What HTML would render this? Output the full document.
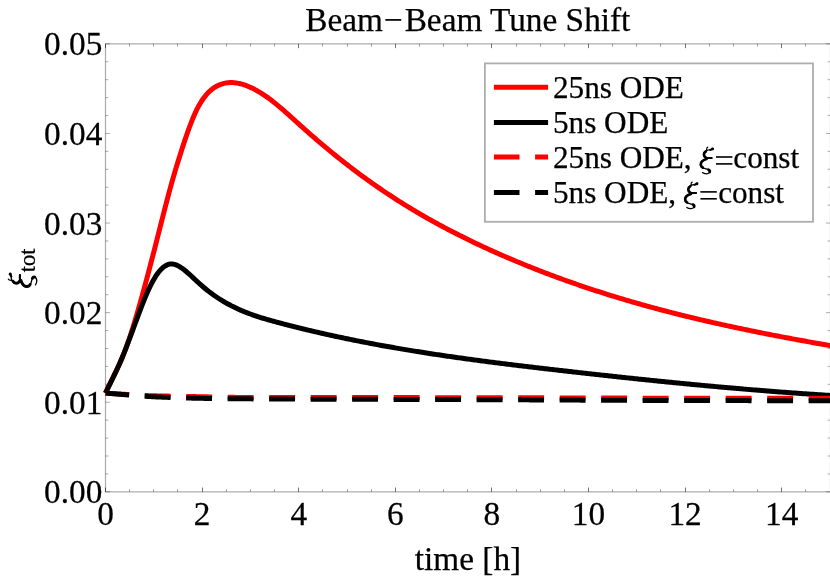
<!DOCTYPE html>
<html><head><meta charset="utf-8"><title>Beam-Beam Tune Shift</title>
<style>
html,body{margin:0;padding:0;background:#fff;}
body{width:830px;height:577px;overflow:hidden;font-family:"Liberation Serif",serif;}
svg{display:block;will-change:transform;}
text{font-family:"Liberation Serif",serif;fill:#000;stroke:#000;stroke-width:0.25px;stroke-linejoin:round;}
.tl{font-size:33.3px;}
.lg{font-size:31.2px;}
.tt{font-size:33.3px;}
.tM{stroke:#000;stroke-width:0.55;}
.tm{stroke:#000;stroke-width:0.36;}
.ty{stroke:#000;stroke-width:0.33;}
.fr{stroke:#aaaaaa;stroke-width:1.2;fill:none;}
.cv{fill:none;stroke-width:5;stroke-linejoin:round;}
.ds{stroke-dasharray:25.9 15.6;stroke-dashoffset:2.2;}
</style></head><body>
<svg width="830" height="577" viewBox="0 0 830 577">
<rect x="0" y="0" width="830" height="577" fill="#fff"/>
<defs><g id="xi" fill="none" stroke="#000" stroke-linecap="round" stroke-linejoin="round"><path stroke-width="1.25" d="M 8.20,-18.50 C 8.20,-19.80 8.60,-21.00 9.40,-21.20 M 14.60,-19.50 C 12.60,-18.10 11.10,-18.80 9.80,-18.40 C 7.10,-17.60 5.30,-15.80 5.30,-13.80 C 5.30,-11.60 6.80,-10.50 9.10,-10.40 L 13.60,-10.40 M 11.10,-10.20 C 6.60,-9.80 2.00,-7.60 2.00,-4.00 C 2.00,-1.80 3.20,-0.80 5.10,-0.20 L 9.40,1.00 C 11.00,1.50 11.50,2.40 11.30,3.40 C 11.00,4.60 9.60,5.40 7.90,5.40 C 6.20,5.40 4.90,4.90 4.00,4.20"/><path stroke-width="2.7" d="M 7.40,-16.90 C 5.90,-16.00 5.50,-14.80 5.50,-13.80 C 5.50,-12.40 6.20,-11.40 7.40,-10.90 M 8.10,-9.40 C 4.60,-8.40 2.40,-6.60 2.40,-4.00 C 2.40,-2.40 3.10,-1.40 4.40,-0.80 M 10.10,1.30 C 11.20,1.80 11.60,2.60 11.30,3.60"/><path stroke-width="2.0" d="M 8.10,-10.40 L 13.20,-10.40"/><circle cx="14.20" cy="-19.50" r="1.45" fill="#000" stroke="none"/><path stroke-width="2.1" d="M 11.9,-18.55 L 14.0,-19.45"/></g></defs>
<text class="tt" x="467.85" y="30.5" text-anchor="middle">Beam<tspan dx="1">−</tspan><tspan dx="1.9">Beam Tune Shift</tspan></text>
<g><text class="tl" transform="translate(105.5,525.3) scale(1,1.04)" text-anchor="middle">0</text><text class="tl" transform="translate(202.1,525.3) scale(1,1.04)" text-anchor="middle">2</text><text class="tl" transform="translate(298.7,525.3) scale(1,1.04)" text-anchor="middle">4</text><text class="tl" transform="translate(395.3,525.3) scale(1,1.04)" text-anchor="middle">6</text><text class="tl" transform="translate(491.9,525.3) scale(1,1.04)" text-anchor="middle">8</text><text class="tl" transform="translate(588.5,525.3) scale(1,1.04)" text-anchor="middle">10</text><text class="tl" transform="translate(685.1,525.3) scale(1,1.04)" text-anchor="middle">12</text><text class="tl" transform="translate(781.7,525.3) scale(1,1.04)" text-anchor="middle">14</text></g>
<g><text class="tl" transform="translate(102.3,503.2) scale(1,1.04)" text-anchor="end">0.00</text><text class="tl" transform="translate(102.3,413.6) scale(1,1.04)" text-anchor="end">0.01</text><text class="tl" transform="translate(102.3,324.0) scale(1,1.04)" text-anchor="end">0.02</text><text class="tl" transform="translate(102.3,234.5) scale(1,1.04)" text-anchor="end">0.03</text><text class="tl" transform="translate(102.3,144.8) scale(1,1.04)" text-anchor="end">0.04</text><text class="tl" transform="translate(102.3,55.3) scale(1,1.04)" text-anchor="end">0.05</text></g>
<text class="tl" x="468" y="569.7" text-anchor="middle">time [h]</text>
<g transform="translate(31.0,288.3) rotate(-90)"><use href="#xi" transform="translate(-0.8,0) scale(1.067)"/><text font-size="22.5px" x="16" y="3.6">tot</text></g>
<rect class="fr" x="105.5" y="43.85" width="725.0" height="448.0"/>
<g><line class="tM" x1="105.50" y1="491.85" x2="105.50" y2="487.55"/><line class="tM" x1="105.50" y1="43.85" x2="105.50" y2="48.15"/><line class="tm" x1="129.50" y1="491.85" x2="129.50" y2="489.05"/><line class="tm" x1="129.50" y1="43.85" x2="129.50" y2="46.65"/><line class="tm" x1="153.50" y1="491.85" x2="153.50" y2="489.05"/><line class="tm" x1="153.50" y1="43.85" x2="153.50" y2="46.65"/><line class="tm" x1="177.50" y1="491.85" x2="177.50" y2="489.05"/><line class="tm" x1="177.50" y1="43.85" x2="177.50" y2="46.65"/><line class="tM" x1="202.50" y1="491.85" x2="202.50" y2="487.55"/><line class="tM" x1="202.50" y1="43.85" x2="202.50" y2="48.15"/><line class="tm" x1="226.50" y1="491.85" x2="226.50" y2="489.05"/><line class="tm" x1="226.50" y1="43.85" x2="226.50" y2="46.65"/><line class="tm" x1="250.50" y1="491.85" x2="250.50" y2="489.05"/><line class="tm" x1="250.50" y1="43.85" x2="250.50" y2="46.65"/><line class="tm" x1="274.50" y1="491.85" x2="274.50" y2="489.05"/><line class="tm" x1="274.50" y1="43.85" x2="274.50" y2="46.65"/><line class="tM" x1="298.50" y1="491.85" x2="298.50" y2="487.55"/><line class="tM" x1="298.50" y1="43.85" x2="298.50" y2="48.15"/><line class="tm" x1="322.50" y1="491.85" x2="322.50" y2="489.05"/><line class="tm" x1="322.50" y1="43.85" x2="322.50" y2="46.65"/><line class="tm" x1="347.50" y1="491.85" x2="347.50" y2="489.05"/><line class="tm" x1="347.50" y1="43.85" x2="347.50" y2="46.65"/><line class="tm" x1="371.50" y1="491.85" x2="371.50" y2="489.05"/><line class="tm" x1="371.50" y1="43.85" x2="371.50" y2="46.65"/><line class="tM" x1="395.50" y1="491.85" x2="395.50" y2="487.55"/><line class="tM" x1="395.50" y1="43.85" x2="395.50" y2="48.15"/><line class="tm" x1="419.50" y1="491.85" x2="419.50" y2="489.05"/><line class="tm" x1="419.50" y1="43.85" x2="419.50" y2="46.65"/><line class="tm" x1="443.50" y1="491.85" x2="443.50" y2="489.05"/><line class="tm" x1="443.50" y1="43.85" x2="443.50" y2="46.65"/><line class="tm" x1="467.50" y1="491.85" x2="467.50" y2="489.05"/><line class="tm" x1="467.50" y1="43.85" x2="467.50" y2="46.65"/><line class="tM" x1="491.50" y1="491.85" x2="491.50" y2="487.55"/><line class="tM" x1="491.50" y1="43.85" x2="491.50" y2="48.15"/><line class="tm" x1="516.50" y1="491.85" x2="516.50" y2="489.05"/><line class="tm" x1="516.50" y1="43.85" x2="516.50" y2="46.65"/><line class="tm" x1="540.50" y1="491.85" x2="540.50" y2="489.05"/><line class="tm" x1="540.50" y1="43.85" x2="540.50" y2="46.65"/><line class="tm" x1="564.50" y1="491.85" x2="564.50" y2="489.05"/><line class="tm" x1="564.50" y1="43.85" x2="564.50" y2="46.65"/><line class="tM" x1="588.50" y1="491.85" x2="588.50" y2="487.55"/><line class="tM" x1="588.50" y1="43.85" x2="588.50" y2="48.15"/><line class="tm" x1="612.50" y1="491.85" x2="612.50" y2="489.05"/><line class="tm" x1="612.50" y1="43.85" x2="612.50" y2="46.65"/><line class="tm" x1="636.50" y1="491.85" x2="636.50" y2="489.05"/><line class="tm" x1="636.50" y1="43.85" x2="636.50" y2="46.65"/><line class="tm" x1="660.50" y1="491.85" x2="660.50" y2="489.05"/><line class="tm" x1="660.50" y1="43.85" x2="660.50" y2="46.65"/><line class="tM" x1="685.50" y1="491.85" x2="685.50" y2="487.55"/><line class="tM" x1="685.50" y1="43.85" x2="685.50" y2="48.15"/><line class="tm" x1="709.50" y1="491.85" x2="709.50" y2="489.05"/><line class="tm" x1="709.50" y1="43.85" x2="709.50" y2="46.65"/><line class="tm" x1="733.50" y1="491.85" x2="733.50" y2="489.05"/><line class="tm" x1="733.50" y1="43.85" x2="733.50" y2="46.65"/><line class="tm" x1="757.50" y1="491.85" x2="757.50" y2="489.05"/><line class="tm" x1="757.50" y1="43.85" x2="757.50" y2="46.65"/><line class="tM" x1="781.50" y1="491.85" x2="781.50" y2="487.55"/><line class="tM" x1="781.50" y1="43.85" x2="781.50" y2="48.15"/><line class="tm" x1="805.50" y1="491.85" x2="805.50" y2="489.05"/><line class="tm" x1="805.50" y1="43.85" x2="805.50" y2="46.65"/><line class="tm" x1="830.50" y1="491.85" x2="830.50" y2="489.05"/><line class="tm" x1="830.50" y1="43.85" x2="830.50" y2="46.65"/><line class="ty" x1="105.50" y1="491.85" x2="110.00" y2="491.85"/><line class="ty" x1="830.50" y1="491.85" x2="826.00" y2="491.85"/><line class="ty" x1="105.50" y1="473.93" x2="108.40" y2="473.93"/><line class="ty" x1="830.50" y1="473.93" x2="827.60" y2="473.93"/><line class="ty" x1="105.50" y1="456.01" x2="108.40" y2="456.01"/><line class="ty" x1="830.50" y1="456.01" x2="827.60" y2="456.01"/><line class="ty" x1="105.50" y1="438.09" x2="108.40" y2="438.09"/><line class="ty" x1="830.50" y1="438.09" x2="827.60" y2="438.09"/><line class="ty" x1="105.50" y1="420.17" x2="108.40" y2="420.17"/><line class="ty" x1="830.50" y1="420.17" x2="827.60" y2="420.17"/><line class="ty" x1="105.50" y1="402.25" x2="110.00" y2="402.25"/><line class="ty" x1="830.50" y1="402.25" x2="826.00" y2="402.25"/><line class="ty" x1="105.50" y1="384.33" x2="108.40" y2="384.33"/><line class="ty" x1="830.50" y1="384.33" x2="827.60" y2="384.33"/><line class="ty" x1="105.50" y1="366.41" x2="108.40" y2="366.41"/><line class="ty" x1="830.50" y1="366.41" x2="827.60" y2="366.41"/><line class="ty" x1="105.50" y1="348.49" x2="108.40" y2="348.49"/><line class="ty" x1="830.50" y1="348.49" x2="827.60" y2="348.49"/><line class="ty" x1="105.50" y1="330.57" x2="108.40" y2="330.57"/><line class="ty" x1="830.50" y1="330.57" x2="827.60" y2="330.57"/><line class="ty" x1="105.50" y1="312.65" x2="110.00" y2="312.65"/><line class="ty" x1="830.50" y1="312.65" x2="826.00" y2="312.65"/><line class="ty" x1="105.50" y1="294.73" x2="108.40" y2="294.73"/><line class="ty" x1="830.50" y1="294.73" x2="827.60" y2="294.73"/><line class="ty" x1="105.50" y1="276.81" x2="108.40" y2="276.81"/><line class="ty" x1="830.50" y1="276.81" x2="827.60" y2="276.81"/><line class="ty" x1="105.50" y1="258.89" x2="108.40" y2="258.89"/><line class="ty" x1="830.50" y1="258.89" x2="827.60" y2="258.89"/><line class="ty" x1="105.50" y1="240.97" x2="108.40" y2="240.97"/><line class="ty" x1="830.50" y1="240.97" x2="827.60" y2="240.97"/><line class="ty" x1="105.50" y1="223.05" x2="110.00" y2="223.05"/><line class="ty" x1="830.50" y1="223.05" x2="826.00" y2="223.05"/><line class="ty" x1="105.50" y1="205.13" x2="108.40" y2="205.13"/><line class="ty" x1="830.50" y1="205.13" x2="827.60" y2="205.13"/><line class="ty" x1="105.50" y1="187.21" x2="108.40" y2="187.21"/><line class="ty" x1="830.50" y1="187.21" x2="827.60" y2="187.21"/><line class="ty" x1="105.50" y1="169.29" x2="108.40" y2="169.29"/><line class="ty" x1="830.50" y1="169.29" x2="827.60" y2="169.29"/><line class="ty" x1="105.50" y1="151.37" x2="108.40" y2="151.37"/><line class="ty" x1="830.50" y1="151.37" x2="827.60" y2="151.37"/><line class="ty" x1="105.50" y1="133.45" x2="110.00" y2="133.45"/><line class="ty" x1="830.50" y1="133.45" x2="826.00" y2="133.45"/><line class="ty" x1="105.50" y1="115.53" x2="108.40" y2="115.53"/><line class="ty" x1="830.50" y1="115.53" x2="827.60" y2="115.53"/><line class="ty" x1="105.50" y1="97.61" x2="108.40" y2="97.61"/><line class="ty" x1="830.50" y1="97.61" x2="827.60" y2="97.61"/><line class="ty" x1="105.50" y1="79.69" x2="108.40" y2="79.69"/><line class="ty" x1="830.50" y1="79.69" x2="827.60" y2="79.69"/><line class="ty" x1="105.50" y1="61.77" x2="108.40" y2="61.77"/><line class="ty" x1="830.50" y1="61.77" x2="827.60" y2="61.77"/><line class="ty" x1="105.50" y1="43.85" x2="110.00" y2="43.85"/><line class="ty" x1="830.50" y1="43.85" x2="826.00" y2="43.85"/></g>
<clipPath id="cp"><rect x="105" y="43" width="726" height="449.5"/></clipPath>
<g>
<path class="cv" stroke="#f00" d="M105.5,393.10 L107.0,389.81 L108.5,386.64 L110.0,383.54 L111.5,380.51 L113.0,377.49 L114.5,374.47 L116.0,371.41 L117.5,368.29 L119.0,365.06 L120.5,361.71 L122.0,358.21 L123.5,354.51 L125.0,350.63 L126.5,346.57 L128.0,342.34 L129.5,337.95 L131.0,333.41 L132.5,328.72 L134.0,323.91 L135.5,318.97 L137.0,313.92 L138.5,308.76 L140.0,303.51 L141.5,298.17 L143.0,292.76 L144.5,287.28 L146.0,281.72 L147.5,276.11 L149.0,270.44 L150.5,264.72 L152.0,258.95 L153.5,253.14 L155.0,247.29 L156.5,241.41 L158.0,235.50 L159.5,229.58 L161.0,223.66 L162.5,217.75 L164.0,211.89 L165.5,206.07 L167.0,200.33 L168.5,194.67 L170.0,189.11 L171.5,183.67 L173.0,178.36 L174.5,173.20 L176.0,168.15 L177.5,163.22 L179.0,158.39 L180.5,153.64 L182.0,148.97 L183.5,144.37 L185.0,139.85 L186.5,135.43 L188.0,131.13 L189.5,126.99 L191.0,123.01 L192.5,119.23 L194.0,115.66 L195.5,112.31 L197.0,109.21 L198.5,106.34 L200.0,103.69 L201.5,101.24 L203.0,99.00 L204.5,96.95 L206.0,95.08 L207.5,93.38 L209.0,91.85 L210.5,90.47 L212.0,89.23 L213.5,88.13 L215.0,87.15 L216.5,86.28 L218.0,85.53 L219.5,84.87 L221.0,84.29 L222.5,83.81 L224.0,83.41 L225.5,83.09 L227.0,82.85 L228.5,82.68 L230.0,82.59 L231.5,82.57 L233.0,82.62 L234.5,82.73 L236.0,82.91 L237.5,83.15 L239.0,83.45 L240.5,83.80 L242.0,84.21 L243.5,84.66 L245.0,85.17 L246.5,85.72 L248.0,86.31 L249.5,86.95 L251.0,87.62 L252.5,88.33 L254.0,89.08 L255.5,89.87 L257.0,90.69 L258.5,91.55 L260.0,92.45 L261.5,93.37 L263.0,94.34 L264.5,95.33 L266.0,96.36 L267.5,97.41 L269.0,98.50 L270.5,99.62 L272.0,100.76 L273.5,101.93 L275.0,103.13 L276.5,104.34 L278.0,105.58 L279.5,106.84 L281.0,108.12 L282.5,109.41 L284.0,110.71 L285.5,112.03 L287.0,113.36 L288.5,114.70 L290.0,116.05 L291.5,117.40 L293.0,118.76 L294.5,120.12 L296.0,121.48 L297.5,122.84 L299.0,124.19 L300.5,125.55 L302.0,126.89 L303.5,128.23 L305.0,129.57 L306.5,130.90 L308.0,132.22 L309.5,133.54 L311.0,134.85 L312.5,136.16 L314.0,137.46 L315.5,138.76 L317.0,140.05 L318.5,141.33 L320.0,142.61 L321.5,143.88 L323.0,145.14 L324.5,146.40 L326.0,147.65 L327.5,148.90 L329.0,150.14 L330.5,151.38 L332.0,152.61 L333.5,153.83 L335.0,155.05 L336.5,156.26 L338.0,157.46 L339.5,158.66 L341.0,159.85 L342.5,161.04 L344.0,162.22 L345.5,163.39 L347.0,164.56 L348.5,165.72 L350.0,166.88 L351.5,168.03 L353.0,169.17 L354.5,170.31 L356.0,171.44 L357.5,172.56 L359.0,173.68 L360.5,174.79 L362.0,175.90 L363.5,176.99 L365.0,178.09 L366.5,179.17 L368.0,180.25 L369.5,181.33 L371.0,182.39 L372.5,183.45 L374.0,184.51 L375.5,185.56 L377.0,186.60 L378.5,187.63 L380.0,188.66 L381.5,189.68 L383.0,190.70 L384.5,191.71 L386.0,192.72 L387.5,193.72 L389.0,194.71 L390.5,195.70 L392.0,196.68 L393.5,197.65 L395.0,198.62 L396.5,199.58 L398.0,200.54 L399.5,201.49 L401.0,202.44 L402.5,203.38 L404.0,204.32 L405.5,205.25 L407.0,206.17 L408.5,207.09 L410.0,208.00 L411.5,208.91 L413.0,209.81 L414.5,210.71 L416.0,211.60 L417.5,212.49 L419.0,213.37 L420.5,214.25 L422.0,215.12 L423.5,215.99 L425.0,216.85 L426.5,217.70 L428.0,218.56 L429.5,219.40 L431.0,220.24 L432.5,221.08 L434.0,221.91 L435.5,222.74 L437.0,223.56 L438.5,224.38 L440.0,225.19 L441.5,226.00 L443.0,226.81 L444.5,227.61 L446.0,228.40 L447.5,229.19 L449.0,229.98 L450.5,230.76 L452.0,231.54 L453.5,232.31 L455.0,233.08 L456.5,233.84 L458.0,234.60 L459.5,235.36 L461.0,236.11 L462.5,236.86 L464.0,237.61 L465.5,238.35 L467.0,239.08 L468.5,239.82 L470.0,240.54 L471.5,241.27 L473.0,241.99 L474.5,242.71 L476.0,243.42 L477.5,244.13 L479.0,244.84 L480.5,245.54 L482.0,246.24 L483.5,246.94 L485.0,247.63 L486.5,248.32 L488.0,249.00 L489.5,249.69 L491.0,250.36 L492.5,251.04 L494.0,251.71 L495.5,252.38 L497.0,253.05 L498.5,253.71 L500.0,254.37 L501.5,255.03 L503.0,255.68 L504.5,256.33 L506.0,256.98 L507.5,257.62 L509.0,258.27 L510.5,258.90 L512.0,259.54 L513.5,260.17 L515.0,260.80 L516.5,261.43 L518.0,262.05 L519.5,262.67 L521.0,263.29 L522.5,263.91 L524.0,264.52 L525.5,265.13 L527.0,265.74 L528.5,266.34 L530.0,266.94 L531.5,267.54 L533.0,268.14 L534.5,268.73 L536.0,269.32 L537.5,269.91 L539.0,270.49 L540.5,271.07 L542.0,271.65 L543.5,272.23 L545.0,272.80 L546.5,273.37 L548.0,273.94 L549.5,274.51 L551.0,275.07 L552.5,275.63 L554.0,276.19 L555.5,276.74 L557.0,277.29 L558.5,277.84 L560.0,278.39 L561.5,278.93 L563.0,279.48 L564.5,280.02 L566.0,280.55 L567.5,281.09 L569.0,281.62 L570.5,282.15 L572.0,282.67 L573.5,283.20 L575.0,283.72 L576.5,284.24 L578.0,284.76 L579.5,285.27 L581.0,285.78 L582.5,286.29 L584.0,286.80 L585.5,287.30 L587.0,287.81 L588.5,288.31 L590.0,288.80 L591.5,289.30 L593.0,289.79 L594.5,290.28 L596.0,290.77 L597.5,291.25 L599.0,291.74 L600.5,292.22 L602.0,292.70 L603.5,293.17 L605.0,293.65 L606.5,294.12 L608.0,294.59 L609.5,295.06 L611.0,295.52 L612.5,295.99 L614.0,296.45 L615.5,296.91 L617.0,297.36 L618.5,297.82 L620.0,298.27 L621.5,298.72 L623.0,299.17 L624.5,299.61 L626.0,300.06 L627.5,300.50 L629.0,300.94 L630.5,301.38 L632.0,301.81 L633.5,302.24 L635.0,302.68 L636.5,303.11 L638.0,303.53 L639.5,303.96 L641.0,304.38 L642.5,304.80 L644.0,305.22 L645.5,305.64 L647.0,306.06 L648.5,306.47 L650.0,306.88 L651.5,307.29 L653.0,307.70 L654.5,308.10 L656.0,308.51 L657.5,308.91 L659.0,309.31 L660.5,309.71 L662.0,310.10 L663.5,310.50 L665.0,310.89 L666.5,311.28 L668.0,311.67 L669.5,312.06 L671.0,312.45 L672.5,312.83 L674.0,313.21 L675.5,313.59 L677.0,313.97 L678.5,314.35 L680.0,314.72 L681.5,315.10 L683.0,315.47 L684.5,315.84 L686.0,316.21 L687.5,316.58 L689.0,316.94 L690.5,317.31 L692.0,317.67 L693.5,318.03 L695.0,318.39 L696.5,318.75 L698.0,319.10 L699.5,319.46 L701.0,319.81 L702.5,320.16 L704.0,320.51 L705.5,320.86 L707.0,321.20 L708.5,321.55 L710.0,321.89 L711.5,322.24 L713.0,322.58 L714.5,322.92 L716.0,323.25 L717.5,323.59 L719.0,323.93 L720.5,324.26 L722.0,324.59 L723.5,324.92 L725.0,325.25 L726.5,325.58 L728.0,325.91 L729.5,326.23 L731.0,326.56 L732.5,326.88 L734.0,327.20 L735.5,327.52 L737.0,327.84 L738.5,328.16 L740.0,328.47 L741.5,328.79 L743.0,329.10 L744.5,329.42 L746.0,329.73 L747.5,330.04 L749.0,330.35 L750.5,330.66 L752.0,330.96 L753.5,331.27 L755.0,331.57 L756.5,331.88 L758.0,332.18 L759.5,332.48 L761.0,332.78 L762.5,333.08 L764.0,333.38 L765.5,333.68 L767.0,333.97 L768.5,334.27 L770.0,334.56 L771.5,334.85 L773.0,335.14 L774.5,335.44 L776.0,335.73 L777.5,336.01 L779.0,336.30 L780.5,336.59 L782.0,336.87 L783.5,337.16 L785.0,337.44 L786.5,337.73 L788.0,338.01 L789.5,338.29 L791.0,338.57 L792.5,338.85 L794.0,339.13 L795.5,339.41 L797.0,339.69 L798.5,339.96 L800.0,340.24 L801.5,340.51 L803.0,340.79 L804.5,341.06 L806.0,341.33 L807.5,341.60 L809.0,341.88 L810.5,342.15 L812.0,342.42 L813.5,342.68 L815.0,342.95 L816.5,343.22 L818.0,343.49 L819.5,343.75 L821.0,344.02 L822.5,344.28 L824.0,344.55 L825.5,344.81 L827.0,345.07 L828.5,345.34 L830.0,345.60 L831.5,345.86 L833.0,346.12"/>
<path class="cv" stroke="#000" d="M105.5,393.10 L107.0,390.01 L108.5,386.94 L110.0,383.89 L111.5,380.82 L113.0,377.74 L114.5,374.62 L116.0,371.46 L117.5,368.22 L119.0,364.92 L120.5,361.51 L122.0,358.00 L123.5,354.37 L125.0,350.63 L126.5,346.79 L128.0,342.86 L129.5,338.88 L131.0,334.84 L132.5,330.78 L134.0,326.70 L135.5,322.62 L137.0,318.56 L138.5,314.54 L140.0,310.57 L141.5,306.67 L143.0,302.85 L144.5,299.14 L146.0,295.55 L147.5,292.09 L149.0,288.78 L150.5,285.64 L152.0,282.69 L153.5,279.94 L155.0,277.40 L156.5,275.07 L158.0,272.96 L159.5,271.07 L161.0,269.39 L162.5,267.94 L164.0,266.71 L165.5,265.70 L167.0,264.92 L168.5,264.37 L170.0,264.04 L171.5,263.95 L173.0,264.07 L174.5,264.40 L176.0,264.89 L177.5,265.55 L179.0,266.34 L180.5,267.24 L182.0,268.25 L183.5,269.34 L185.0,270.51 L186.5,271.75 L188.0,273.05 L189.5,274.38 L191.0,275.76 L192.5,277.16 L194.0,278.57 L195.5,279.98 L197.0,281.39 L198.5,282.78 L200.0,284.14 L201.5,285.46 L203.0,286.76 L204.5,288.02 L206.0,289.25 L207.5,290.45 L209.0,291.62 L210.5,292.75 L212.0,293.86 L213.5,294.94 L215.0,295.99 L216.5,297.02 L218.0,298.01 L219.5,298.98 L221.0,299.93 L222.5,300.84 L224.0,301.74 L225.5,302.61 L227.0,303.45 L228.5,304.28 L230.0,305.08 L231.5,305.86 L233.0,306.61 L234.5,307.35 L236.0,308.07 L237.5,308.76 L239.0,309.44 L240.5,310.10 L242.0,310.75 L243.5,311.37 L245.0,311.98 L246.5,312.58 L248.0,313.16 L249.5,313.72 L251.0,314.27 L252.5,314.81 L254.0,315.33 L255.5,315.85 L257.0,316.35 L258.5,316.84 L260.0,317.32 L261.5,317.79 L263.0,318.25 L264.5,318.70 L266.0,319.14 L267.5,319.58 L269.0,320.01 L270.5,320.43 L272.0,320.85 L273.5,321.27 L275.0,321.68 L276.5,322.08 L278.0,322.48 L279.5,322.88 L281.0,323.28 L282.5,323.68 L284.0,324.07 L285.5,324.46 L287.0,324.85 L288.5,325.23 L290.0,325.62 L291.5,326.00 L293.0,326.38 L294.5,326.76 L296.0,327.14 L297.5,327.51 L299.0,327.88 L300.5,328.25 L302.0,328.62 L303.5,328.99 L305.0,329.35 L306.5,329.71 L308.0,330.07 L309.5,330.43 L311.0,330.78 L312.5,331.14 L314.0,331.49 L315.5,331.84 L317.0,332.19 L318.5,332.53 L320.0,332.88 L321.5,333.22 L323.0,333.56 L324.5,333.90 L326.0,334.23 L327.5,334.57 L329.0,334.90 L330.5,335.23 L332.0,335.56 L333.5,335.88 L335.0,336.21 L336.5,336.53 L338.0,336.85 L339.5,337.17 L341.0,337.49 L342.5,337.81 L344.0,338.12 L345.5,338.44 L347.0,338.75 L348.5,339.06 L350.0,339.36 L351.5,339.67 L353.0,339.97 L354.5,340.27 L356.0,340.58 L357.5,340.87 L359.0,341.17 L360.5,341.47 L362.0,341.76 L363.5,342.05 L365.0,342.35 L366.5,342.63 L368.0,342.92 L369.5,343.21 L371.0,343.49 L372.5,343.78 L374.0,344.06 L375.5,344.34 L377.0,344.62 L378.5,344.89 L380.0,345.17 L381.5,345.44 L383.0,345.71 L384.5,345.98 L386.0,346.25 L387.5,346.52 L389.0,346.79 L390.5,347.05 L392.0,347.32 L393.5,347.58 L395.0,347.84 L396.5,348.10 L398.0,348.36 L399.5,348.61 L401.0,348.87 L402.5,349.12 L404.0,349.38 L405.5,349.63 L407.0,349.88 L408.5,350.13 L410.0,350.37 L411.5,350.62 L413.0,350.86 L414.5,351.11 L416.0,351.35 L417.5,351.59 L419.0,351.83 L420.5,352.07 L422.0,352.31 L423.5,352.54 L425.0,352.78 L426.5,353.01 L428.0,353.25 L429.5,353.48 L431.0,353.71 L432.5,353.94 L434.0,354.16 L435.5,354.39 L437.0,354.62 L438.5,354.84 L440.0,355.07 L441.5,355.29 L443.0,355.51 L444.5,355.73 L446.0,355.95 L447.5,356.17 L449.0,356.39 L450.5,356.60 L452.0,356.82 L453.5,357.03 L455.0,357.25 L456.5,357.46 L458.0,357.67 L459.5,357.88 L461.0,358.09 L462.5,358.30 L464.0,358.51 L465.5,358.72 L467.0,358.92 L468.5,359.13 L470.0,359.33 L471.5,359.53 L473.0,359.74 L474.5,359.94 L476.0,360.14 L477.5,360.34 L479.0,360.54 L480.5,360.74 L482.0,360.94 L483.5,361.13 L485.0,361.33 L486.5,361.52 L488.0,361.72 L489.5,361.91 L491.0,362.11 L492.5,362.30 L494.0,362.49 L495.5,362.68 L497.0,362.87 L498.5,363.06 L500.0,363.25 L501.5,363.44 L503.0,363.63 L504.5,363.82 L506.0,364.00 L507.5,364.19 L509.0,364.38 L510.5,364.56 L512.0,364.74 L513.5,364.93 L515.0,365.11 L516.5,365.29 L518.0,365.48 L519.5,365.66 L521.0,365.84 L522.5,366.02 L524.0,366.20 L525.5,366.38 L527.0,366.56 L528.5,366.74 L530.0,366.92 L531.5,367.09 L533.0,367.27 L534.5,367.45 L536.0,367.63 L537.5,367.80 L539.0,367.98 L540.5,368.15 L542.0,368.33 L543.5,368.50 L545.0,368.68 L546.5,368.85 L548.0,369.03 L549.5,369.20 L551.0,369.37 L552.5,369.55 L554.0,369.72 L555.5,369.89 L557.0,370.06 L558.5,370.24 L560.0,370.41 L561.5,370.58 L563.0,370.75 L564.5,370.92 L566.0,371.09 L567.5,371.26 L569.0,371.43 L570.5,371.60 L572.0,371.77 L573.5,371.94 L575.0,372.11 L576.5,372.28 L578.0,372.45 L579.5,372.62 L581.0,372.79 L582.5,372.96 L584.0,373.12 L585.5,373.29 L587.0,373.46 L588.5,373.63 L590.0,373.79 L591.5,373.96 L593.0,374.13 L594.5,374.29 L596.0,374.46 L597.5,374.62 L599.0,374.79 L600.5,374.95 L602.0,375.12 L603.5,375.28 L605.0,375.45 L606.5,375.61 L608.0,375.77 L609.5,375.94 L611.0,376.10 L612.5,376.26 L614.0,376.42 L615.5,376.59 L617.0,376.75 L618.5,376.91 L620.0,377.07 L621.5,377.23 L623.0,377.39 L624.5,377.55 L626.0,377.71 L627.5,377.87 L629.0,378.03 L630.5,378.19 L632.0,378.35 L633.5,378.51 L635.0,378.66 L636.5,378.82 L638.0,378.98 L639.5,379.14 L641.0,379.29 L642.5,379.45 L644.0,379.60 L645.5,379.76 L647.0,379.91 L648.5,380.07 L650.0,380.22 L651.5,380.38 L653.0,380.53 L654.5,380.68 L656.0,380.84 L657.5,380.99 L659.0,381.14 L660.5,381.29 L662.0,381.44 L663.5,381.60 L665.0,381.75 L666.5,381.90 L668.0,382.05 L669.5,382.20 L671.0,382.34 L672.5,382.49 L674.0,382.64 L675.5,382.79 L677.0,382.94 L678.5,383.08 L680.0,383.23 L681.5,383.38 L683.0,383.52 L684.5,383.67 L686.0,383.81 L687.5,383.96 L689.0,384.10 L690.5,384.25 L692.0,384.39 L693.5,384.53 L695.0,384.67 L696.5,384.82 L698.0,384.96 L699.5,385.10 L701.0,385.24 L702.5,385.38 L704.0,385.52 L705.5,385.66 L707.0,385.80 L708.5,385.94 L710.0,386.07 L711.5,386.21 L713.0,386.35 L714.5,386.49 L716.0,386.62 L717.5,386.76 L719.0,386.89 L720.5,387.03 L722.0,387.16 L723.5,387.30 L725.0,387.43 L726.5,387.56 L728.0,387.69 L729.5,387.83 L731.0,387.96 L732.5,388.09 L734.0,388.22 L735.5,388.35 L737.0,388.48 L738.5,388.61 L740.0,388.73 L741.5,388.86 L743.0,388.99 L744.5,389.12 L746.0,389.24 L747.5,389.37 L749.0,389.49 L750.5,389.62 L752.0,389.74 L753.5,389.87 L755.0,389.99 L756.5,390.11 L758.0,390.24 L759.5,390.36 L761.0,390.48 L762.5,390.60 L764.0,390.72 L765.5,390.84 L767.0,390.96 L768.5,391.08 L770.0,391.19 L771.5,391.31 L773.0,391.43 L774.5,391.54 L776.0,391.66 L777.5,391.77 L779.0,391.89 L780.5,392.00 L782.0,392.12 L783.5,392.23 L785.0,392.34 L786.5,392.45 L788.0,392.56 L789.5,392.68 L791.0,392.79 L792.5,392.89 L794.0,393.00 L795.5,393.11 L797.0,393.22 L798.5,393.33 L800.0,393.43 L801.5,393.54 L803.0,393.64 L804.5,393.75 L806.0,393.85 L807.5,393.96 L809.0,394.06 L810.5,394.16 L812.0,394.26 L813.5,394.36 L815.0,394.46 L816.5,394.56 L818.0,394.66 L819.5,394.76 L821.0,394.86 L822.5,394.95 L824.0,395.05 L825.5,395.15 L827.0,395.24 L828.5,395.34 L830.0,395.43 L831.5,395.52 L833.0,395.62"/>
<path class="cv ds" stroke="#f00" d="M105.5,393.10 L107.0,393.20 L108.5,393.30 L110.0,393.40 L111.5,393.50 L113.0,393.60 L114.5,393.70 L116.0,393.80 L117.5,393.89 L119.0,393.99 L120.5,394.08 L122.0,394.17 L123.5,394.27 L125.0,394.36 L126.5,394.45 L128.0,394.54 L129.5,394.63 L131.0,394.72 L132.5,394.82 L134.0,394.91 L135.5,395.01 L137.0,395.10 L138.5,395.19 L140.0,395.27 L141.5,395.35 L143.0,395.42 L144.5,395.48 L146.0,395.53 L147.5,395.58 L149.0,395.63 L150.5,395.68 L152.0,395.72 L153.5,395.76 L155.0,395.80 L156.5,395.84 L158.0,395.88 L159.5,395.92 L161.0,395.96 L162.5,395.99 L164.0,396.03 L165.5,396.06 L167.0,396.09 L168.5,396.12 L170.0,396.15 L171.5,396.18 L173.0,396.21 L174.5,396.24 L176.0,396.27 L177.5,396.30 L179.0,396.32 L180.5,396.35 L182.0,396.38 L183.5,396.40 L185.0,396.43 L186.5,396.46 L188.0,396.48 L189.5,396.51 L191.0,396.53 L192.5,396.56 L194.0,396.59 L195.5,396.62 L197.0,396.64 L198.5,396.67 L200.0,396.70 L201.5,396.73 L203.0,396.76 L204.5,396.79 L206.0,396.82 L207.5,396.86 L209.0,396.89 L210.5,396.92 L212.0,396.96 L213.5,396.99 L215.0,397.02 L216.5,397.06 L218.0,397.09 L219.5,397.12 L221.0,397.15 L222.5,397.18 L224.0,397.21 L225.5,397.24 L227.0,397.26 L228.5,397.29 L230.0,397.31 L231.5,397.33 L233.0,397.35 L234.5,397.36 L236.0,397.38 L237.5,397.39 L239.0,397.40 L240.5,397.40 L242.0,397.41 L243.5,397.41 L245.0,397.41 L246.5,397.42 L248.0,397.42 L249.5,397.43 L251.0,397.43 L252.5,397.43 L254.0,397.44 L255.5,397.44 L257.0,397.44 L258.5,397.45 L260.0,397.45 L261.5,397.45 L263.0,397.46 L264.5,397.46 L266.0,397.46 L267.5,397.47 L269.0,397.47 L270.5,397.47 L272.0,397.48 L273.5,397.48 L275.0,397.48 L276.5,397.49 L278.0,397.49 L279.5,397.49 L281.0,397.49 L282.5,397.50 L284.0,397.50 L285.5,397.50 L287.0,397.50 L288.5,397.51 L290.0,397.51 L291.5,397.51 L293.0,397.51 L294.5,397.52 L296.0,397.52 L297.5,397.52 L299.0,397.52 L300.5,397.52 L302.0,397.53 L303.5,397.53 L305.0,397.53 L306.5,397.53 L308.0,397.53 L309.5,397.54 L311.0,397.54 L312.5,397.54 L314.0,397.54 L315.5,397.54 L317.0,397.55 L318.5,397.55 L320.0,397.55 L321.5,397.55 L323.0,397.55 L324.5,397.55 L326.0,397.55 L327.5,397.56 L329.0,397.56 L330.5,397.56 L332.0,397.56 L333.5,397.56 L335.0,397.56 L336.5,397.56 L338.0,397.57 L339.5,397.57 L341.0,397.57 L342.5,397.57 L344.0,397.57 L345.5,397.57 L347.0,397.57 L348.5,397.57 L350.0,397.58 L351.5,397.58 L353.0,397.58 L354.5,397.58 L356.0,397.58 L357.5,397.58 L359.0,397.58 L360.5,397.58 L362.0,397.58 L363.5,397.59 L365.0,397.59 L366.5,397.59 L368.0,397.59 L369.5,397.59 L371.0,397.59 L372.5,397.59 L374.0,397.59 L375.5,397.59 L377.0,397.59 L378.5,397.60 L380.0,397.60 L381.5,397.60 L383.0,397.60 L384.5,397.60 L386.0,397.60 L387.5,397.60 L389.0,397.60 L390.5,397.60 L392.0,397.60 L393.5,397.60 L395.0,397.61 L396.5,397.61 L398.0,397.61 L399.5,397.61 L401.0,397.61 L402.5,397.61 L404.0,397.61 L405.5,397.61 L407.0,397.61 L408.5,397.61 L410.0,397.61 L411.5,397.62 L413.0,397.62 L414.5,397.62 L416.0,397.62 L417.5,397.62 L419.0,397.62 L420.5,397.62 L422.0,397.62 L423.5,397.62 L425.0,397.63 L426.5,397.63 L428.0,397.63 L429.5,397.63 L431.0,397.63 L432.5,397.63 L434.0,397.63 L435.5,397.63 L437.0,397.64 L438.5,397.64 L440.0,397.64 L441.5,397.64 L443.0,397.64 L444.5,397.64 L446.0,397.64 L447.5,397.64 L449.0,397.65 L450.5,397.65 L452.0,397.65 L453.5,397.65 L455.0,397.65 L456.5,397.65 L458.0,397.66 L459.5,397.66 L461.0,397.66 L462.5,397.66 L464.0,397.66 L465.5,397.66 L467.0,397.67 L468.5,397.67 L470.0,397.67 L471.5,397.67 L473.0,397.67 L474.5,397.68 L476.0,397.68 L477.5,397.68 L479.0,397.68 L480.5,397.68 L482.0,397.69 L483.5,397.69 L485.0,397.69 L486.5,397.69 L488.0,397.70 L489.5,397.70 L491.0,397.70 L492.5,397.70 L494.0,397.71 L495.5,397.71 L497.0,397.71 L498.5,397.72 L500.0,397.72 L501.5,397.72 L503.0,397.73 L504.5,397.73 L506.0,397.73 L507.5,397.74 L509.0,397.74 L510.5,397.74 L512.0,397.75 L513.5,397.75 L515.0,397.76 L516.5,397.76 L518.0,397.76 L519.5,397.77 L521.0,397.77 L522.5,397.78 L524.0,397.78 L525.5,397.79 L527.0,397.79 L528.5,397.79 L530.0,397.80 L531.5,397.80 L533.0,397.81 L534.5,397.81 L536.0,397.82 L537.5,397.82 L539.0,397.83 L540.5,397.83 L542.0,397.84 L543.5,397.84 L545.0,397.85 L546.5,397.85 L548.0,397.86 L549.5,397.86 L551.0,397.87 L552.5,397.87 L554.0,397.88 L555.5,397.88 L557.0,397.89 L558.5,397.90 L560.0,397.90 L561.5,397.91 L563.0,397.91 L564.5,397.92 L566.0,397.92 L567.5,397.93 L569.0,397.93 L570.5,397.94 L572.0,397.94 L573.5,397.95 L575.0,397.95 L576.5,397.96 L578.0,397.96 L579.5,397.97 L581.0,397.98 L582.5,397.98 L584.0,397.99 L585.5,397.99 L587.0,398.00 L588.5,398.00 L590.0,398.01 L591.5,398.01 L593.0,398.02 L594.5,398.02 L596.0,398.03 L597.5,398.03 L599.0,398.04 L600.5,398.04 L602.0,398.05 L603.5,398.05 L605.0,398.06 L606.5,398.06 L608.0,398.07 L609.5,398.07 L611.0,398.08 L612.5,398.08 L614.0,398.09 L615.5,398.09 L617.0,398.09 L618.5,398.10 L620.0,398.10 L621.5,398.11 L623.0,398.11 L624.5,398.12 L626.0,398.12 L627.5,398.12 L629.0,398.13 L630.5,398.13 L632.0,398.14 L633.5,398.14 L635.0,398.14 L636.5,398.15 L638.0,398.15 L639.5,398.15 L641.0,398.16 L642.5,398.16 L644.0,398.16 L645.5,398.17 L647.0,398.17 L648.5,398.17 L650.0,398.17 L651.5,398.18 L653.0,398.18 L654.5,398.18 L656.0,398.18 L657.5,398.18 L659.0,398.19 L660.5,398.19 L662.0,398.19 L663.5,398.19 L665.0,398.19 L666.5,398.19 L668.0,398.20 L669.5,398.20 L671.0,398.20 L672.5,398.20 L674.0,398.20 L675.5,398.20 L677.0,398.20 L678.5,398.20 L680.0,398.20 L681.5,398.20 L683.0,398.20 L684.5,398.20 L686.0,398.20 L687.5,398.20 L689.0,398.20 L690.5,398.20 L692.0,398.20 L693.5,398.20 L695.0,398.20 L696.5,398.20 L698.0,398.20 L699.5,398.20 L701.0,398.20 L702.5,398.20 L704.0,398.20 L705.5,398.20 L707.0,398.20 L708.5,398.20 L710.0,398.20 L711.5,398.20 L713.0,398.20 L714.5,398.20 L716.0,398.20 L717.5,398.20 L719.0,398.20 L720.5,398.20 L722.0,398.20 L723.5,398.20 L725.0,398.20 L726.5,398.20 L728.0,398.20 L729.5,398.20 L731.0,398.20 L732.5,398.20 L734.0,398.20 L735.5,398.20 L737.0,398.20 L738.5,398.20 L740.0,398.20 L741.5,398.20 L743.0,398.20 L744.5,398.20 L746.0,398.20 L747.5,398.20 L749.0,398.20 L750.5,398.20 L752.0,398.20 L753.5,398.20 L755.0,398.20 L756.5,398.20 L758.0,398.20 L759.5,398.20 L761.0,398.20 L762.5,398.20 L764.0,398.20 L765.5,398.20 L767.0,398.20 L768.5,398.20 L770.0,398.20 L771.5,398.20 L773.0,398.20 L774.5,398.20 L776.0,398.20 L777.5,398.20 L779.0,398.20 L780.5,398.20 L782.0,398.20 L783.5,398.20 L785.0,398.20 L786.5,398.20 L788.0,398.20 L789.5,398.20 L791.0,398.20 L792.5,398.20 L794.0,398.20 L795.5,398.20 L797.0,398.20 L798.5,398.20 L800.0,398.20 L801.5,398.20 L803.0,398.20 L804.5,398.20 L806.0,398.20 L807.5,398.20 L809.0,398.20 L810.5,398.20 L812.0,398.20 L813.5,398.20 L815.0,398.20 L816.5,398.20 L818.0,398.20 L819.5,398.20 L821.0,398.20 L822.5,398.20 L824.0,398.20 L825.5,398.20 L827.0,398.20 L828.5,398.20 L830.0,398.20 L831.5,398.20 L833.0,398.20"/>
<path class="cv ds" stroke="#000" d="M105.5,393.10 L107.0,393.22 L108.5,393.34 L110.0,393.46 L111.5,393.58 L113.0,393.71 L114.5,393.83 L116.0,393.95 L117.5,394.07 L119.0,394.19 L120.5,394.31 L122.0,394.43 L123.5,394.55 L125.0,394.68 L126.5,394.80 L128.0,394.92 L129.5,395.04 L131.0,395.17 L132.5,395.30 L134.0,395.44 L135.5,395.57 L137.0,395.70 L138.5,395.83 L140.0,395.96 L141.5,396.07 L143.0,396.18 L144.5,396.27 L146.0,396.35 L147.5,396.43 L149.0,396.51 L150.5,396.59 L152.0,396.66 L153.5,396.74 L155.0,396.81 L156.5,396.88 L158.0,396.95 L159.5,397.02 L161.0,397.08 L162.5,397.15 L164.0,397.21 L165.5,397.28 L167.0,397.34 L168.5,397.40 L170.0,397.45 L171.5,397.51 L173.0,397.56 L174.5,397.62 L176.0,397.67 L177.5,397.72 L179.0,397.77 L180.5,397.82 L182.0,397.86 L183.5,397.91 L185.0,397.95 L186.5,397.99 L188.0,398.03 L189.5,398.07 L191.0,398.11 L192.5,398.14 L194.0,398.18 L195.5,398.21 L197.0,398.24 L198.5,398.27 L200.0,398.30 L201.5,398.33 L203.0,398.35 L204.5,398.38 L206.0,398.40 L207.5,398.43 L209.0,398.45 L210.5,398.48 L212.0,398.50 L213.5,398.52 L215.0,398.54 L216.5,398.56 L218.0,398.58 L219.5,398.60 L221.0,398.62 L222.5,398.64 L224.0,398.66 L225.5,398.67 L227.0,398.69 L228.5,398.70 L230.0,398.72 L231.5,398.73 L233.0,398.75 L234.5,398.76 L236.0,398.77 L237.5,398.78 L239.0,398.79 L240.5,398.80 L242.0,398.81 L243.5,398.82 L245.0,398.83 L246.5,398.84 L248.0,398.85 L249.5,398.86 L251.0,398.87 L252.5,398.88 L254.0,398.89 L255.5,398.89 L257.0,398.90 L258.5,398.91 L260.0,398.92 L261.5,398.93 L263.0,398.94 L264.5,398.94 L266.0,398.95 L267.5,398.96 L269.0,398.97 L270.5,398.98 L272.0,398.98 L273.5,398.99 L275.0,399.00 L276.5,399.01 L278.0,399.01 L279.5,399.02 L281.0,399.03 L282.5,399.03 L284.0,399.04 L285.5,399.05 L287.0,399.06 L288.5,399.06 L290.0,399.07 L291.5,399.08 L293.0,399.08 L294.5,399.09 L296.0,399.09 L297.5,399.10 L299.0,399.11 L300.5,399.11 L302.0,399.12 L303.5,399.13 L305.0,399.13 L306.5,399.14 L308.0,399.14 L309.5,399.15 L311.0,399.16 L312.5,399.16 L314.0,399.17 L315.5,399.17 L317.0,399.18 L318.5,399.18 L320.0,399.19 L321.5,399.19 L323.0,399.20 L324.5,399.20 L326.0,399.21 L327.5,399.21 L329.0,399.22 L330.5,399.22 L332.0,399.23 L333.5,399.23 L335.0,399.24 L336.5,399.24 L338.0,399.25 L339.5,399.25 L341.0,399.26 L342.5,399.26 L344.0,399.27 L345.5,399.27 L347.0,399.28 L348.5,399.28 L350.0,399.29 L351.5,399.29 L353.0,399.30 L354.5,399.30 L356.0,399.30 L357.5,399.31 L359.0,399.31 L360.5,399.32 L362.0,399.32 L363.5,399.33 L365.0,399.33 L366.5,399.33 L368.0,399.34 L369.5,399.34 L371.0,399.35 L372.5,399.35 L374.0,399.35 L375.5,399.36 L377.0,399.36 L378.5,399.37 L380.0,399.37 L381.5,399.38 L383.0,399.38 L384.5,399.38 L386.0,399.39 L387.5,399.39 L389.0,399.40 L390.5,399.40 L392.0,399.40 L393.5,399.41 L395.0,399.41 L396.5,399.41 L398.0,399.42 L399.5,399.42 L401.0,399.43 L402.5,399.43 L404.0,399.43 L405.5,399.44 L407.0,399.44 L408.5,399.45 L410.0,399.45 L411.5,399.45 L413.0,399.46 L414.5,399.46 L416.0,399.47 L417.5,399.47 L419.0,399.47 L420.5,399.48 L422.0,399.48 L423.5,399.49 L425.0,399.49 L426.5,399.50 L428.0,399.50 L429.5,399.50 L431.0,399.51 L432.5,399.51 L434.0,399.52 L435.5,399.52 L437.0,399.52 L438.5,399.53 L440.0,399.53 L441.5,399.54 L443.0,399.54 L444.5,399.55 L446.0,399.55 L447.5,399.56 L449.0,399.56 L450.5,399.56 L452.0,399.57 L453.5,399.57 L455.0,399.58 L456.5,399.58 L458.0,399.59 L459.5,399.59 L461.0,399.60 L462.5,399.60 L464.0,399.61 L465.5,399.61 L467.0,399.62 L468.5,399.62 L470.0,399.63 L471.5,399.63 L473.0,399.64 L474.5,399.64 L476.0,399.65 L477.5,399.65 L479.0,399.66 L480.5,399.66 L482.0,399.67 L483.5,399.68 L485.0,399.68 L486.5,399.69 L488.0,399.69 L489.5,399.70 L491.0,399.70 L492.5,399.71 L494.0,399.72 L495.5,399.72 L497.0,399.73 L498.5,399.73 L500.0,399.74 L501.5,399.75 L503.0,399.75 L504.5,399.76 L506.0,399.77 L507.5,399.77 L509.0,399.78 L510.5,399.79 L512.0,399.79 L513.5,399.80 L515.0,399.81 L516.5,399.81 L518.0,399.82 L519.5,399.83 L521.0,399.83 L522.5,399.84 L524.0,399.85 L525.5,399.85 L527.0,399.86 L528.5,399.87 L530.0,399.88 L531.5,399.88 L533.0,399.89 L534.5,399.90 L536.0,399.90 L537.5,399.91 L539.0,399.92 L540.5,399.93 L542.0,399.93 L543.5,399.94 L545.0,399.95 L546.5,399.96 L548.0,399.96 L549.5,399.97 L551.0,399.98 L552.5,399.98 L554.0,399.99 L555.5,400.00 L557.0,400.01 L558.5,400.01 L560.0,400.02 L561.5,400.03 L563.0,400.04 L564.5,400.04 L566.0,400.05 L567.5,400.06 L569.0,400.07 L570.5,400.07 L572.0,400.08 L573.5,400.09 L575.0,400.10 L576.5,400.10 L578.0,400.11 L579.5,400.12 L581.0,400.13 L582.5,400.13 L584.0,400.14 L585.5,400.15 L587.0,400.16 L588.5,400.16 L590.0,400.17 L591.5,400.18 L593.0,400.18 L594.5,400.19 L596.0,400.20 L597.5,400.21 L599.0,400.21 L600.5,400.22 L602.0,400.23 L603.5,400.23 L605.0,400.24 L606.5,400.25 L608.0,400.25 L609.5,400.26 L611.0,400.27 L612.5,400.27 L614.0,400.28 L615.5,400.29 L617.0,400.29 L618.5,400.30 L620.0,400.31 L621.5,400.31 L623.0,400.32 L624.5,400.32 L626.0,400.33 L627.5,400.34 L629.0,400.34 L630.5,400.35 L632.0,400.35 L633.5,400.36 L635.0,400.37 L636.5,400.37 L638.0,400.38 L639.5,400.38 L641.0,400.39 L642.5,400.39 L644.0,400.40 L645.5,400.40 L647.0,400.41 L648.5,400.41 L650.0,400.42 L651.5,400.42 L653.0,400.43 L654.5,400.43 L656.0,400.44 L657.5,400.44 L659.0,400.45 L660.5,400.45 L662.0,400.46 L663.5,400.46 L665.0,400.46 L666.5,400.47 L668.0,400.47 L669.5,400.48 L671.0,400.48 L672.5,400.48 L674.0,400.49 L675.5,400.49 L677.0,400.49 L678.5,400.50 L680.0,400.50 L681.5,400.50 L683.0,400.51 L684.5,400.51 L686.0,400.51 L687.5,400.51 L689.0,400.52 L690.5,400.52 L692.0,400.52 L693.5,400.53 L695.0,400.53 L696.5,400.53 L698.0,400.54 L699.5,400.54 L701.0,400.54 L702.5,400.54 L704.0,400.55 L705.5,400.55 L707.0,400.55 L708.5,400.56 L710.0,400.56 L711.5,400.56 L713.0,400.56 L714.5,400.57 L716.0,400.57 L717.5,400.57 L719.0,400.58 L720.5,400.58 L722.0,400.58 L723.5,400.58 L725.0,400.59 L726.5,400.59 L728.0,400.59 L729.5,400.59 L731.0,400.60 L732.5,400.60 L734.0,400.60 L735.5,400.60 L737.0,400.61 L738.5,400.61 L740.0,400.61 L741.5,400.61 L743.0,400.62 L744.5,400.62 L746.0,400.62 L747.5,400.62 L749.0,400.63 L750.5,400.63 L752.0,400.63 L753.5,400.63 L755.0,400.64 L756.5,400.64 L758.0,400.64 L759.5,400.64 L761.0,400.64 L762.5,400.65 L764.0,400.65 L765.5,400.65 L767.0,400.65 L768.5,400.65 L770.0,400.66 L771.5,400.66 L773.0,400.66 L774.5,400.66 L776.0,400.66 L777.5,400.67 L779.0,400.67 L780.5,400.67 L782.0,400.67 L783.5,400.67 L785.0,400.67 L786.5,400.68 L788.0,400.68 L789.5,400.68 L791.0,400.68 L792.5,400.68 L794.0,400.68 L795.5,400.68 L797.0,400.69 L798.5,400.69 L800.0,400.69 L801.5,400.69 L803.0,400.69 L804.5,400.69 L806.0,400.69 L807.5,400.69 L809.0,400.69 L810.5,400.69 L812.0,400.69 L813.5,400.70 L815.0,400.70 L816.5,400.70 L818.0,400.70 L819.5,400.70 L821.0,400.70 L822.5,400.70 L824.0,400.70 L825.5,400.70 L827.0,400.70 L828.5,400.70 L830.0,400.70 L831.5,400.70 L833.0,400.70"/>
</g>
<rect x="484.9" y="63.4" width="328.1" height="158.4" fill="#fff" stroke="#adadad" stroke-width="1.8"/>
<line x1="493.9" y1="87.2" x2="548.1" y2="87.2" stroke="#f00" stroke-width="5"/>
<line x1="493.9" y1="122.6" x2="548.1" y2="122.6" stroke="#000" stroke-width="5"/>
<line x1="493.9" y1="157.1" x2="548.1" y2="157.1" stroke="#f00" stroke-width="5" stroke-dasharray="25.6 15.6"/>
<line x1="493.9" y1="192.4" x2="548.1" y2="192.4" stroke="#000" stroke-width="5" stroke-dasharray="25.6 15.6"/>
<text class="lg" x="553" y="97.5">25ns ODE</text>
<text class="lg" x="553" y="132.5">5ns ODE</text>
<text class="lg" x="553" y="168.4">25ns ODE,</text><use href="#xi" x="698.4" y="168.4"/><rect x="716" y="156.2" width="16.4" height="1.6"/><rect x="716" y="163.1" width="16.4" height="1.6"/><text class="lg" x="733.3" y="168.4">const</text>
<text class="lg" x="553" y="203.3">5ns ODE,</text><use href="#xi" x="682.8" y="203.3"/><rect x="700.4" y="191.1" width="16.4" height="1.6"/><rect x="700.4" y="198" width="16.4" height="1.6"/><text class="lg" x="718.2" y="203.3">const</text>
</svg>
</body></html>
